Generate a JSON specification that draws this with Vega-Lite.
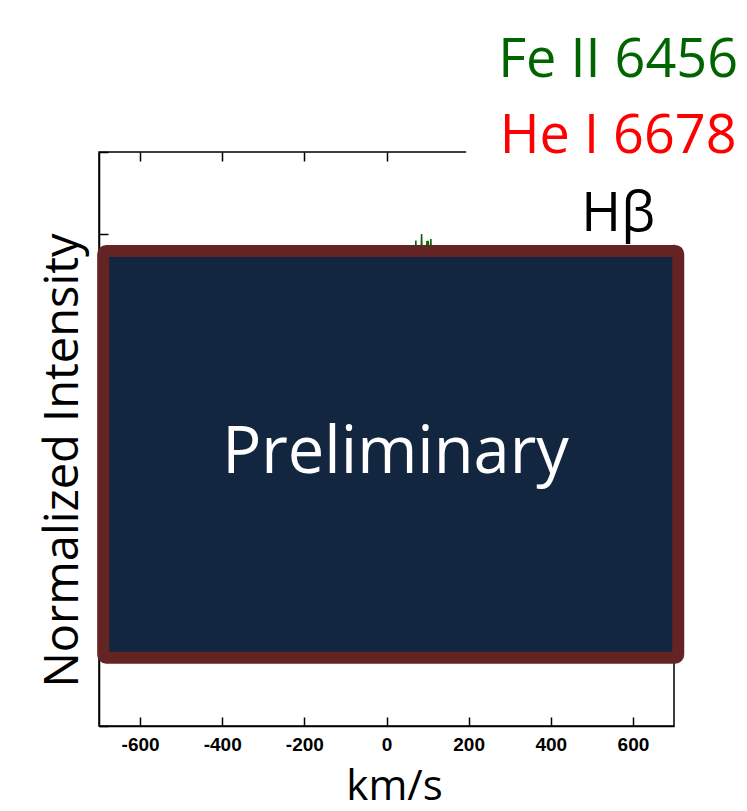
{
  "$schema": "https://vega.github.io/schema/vega-lite/v6.json",
  "width": 575,
  "height": 574,
  "autosize": {"type": "none"},
  "padding": {"left": 99, "top": 152, "right": 73, "bottom": 85},
  "background": "white",
  "config": {"view": {"stroke": "black", "strokeWidth": 1.5}, "axis": {"grid": false}},
  "datasets": {
    "spectrum": [
      {"v": 60, "intensity": 5.7},
      {"v": 70, "intensity": 5.75},
      {"v": 71.5, "intensity": 5.92},
      {"v": 73, "intensity": 5.7},
      {"v": 84, "intensity": 5.75},
      {"v": 85.5, "intensity": 6.0},
      {"v": 87, "intensity": 5.7},
      {"v": 97, "intensity": 5.8},
      {"v": 98.5, "intensity": 5.91},
      {"v": 101.5, "intensity": 5.91},
      {"v": 103, "intensity": 5.75},
      {"v": 106.5, "intensity": 5.8},
      {"v": 108, "intensity": 5.94},
      {"v": 109.5, "intensity": 5.7},
      {"v": 120, "intensity": 5.7}
    ],
    "cover": [{"x1": 194, "x2": 900, "y1": 5.87, "y2": 9}],
    "box": [{"x1": -689.8, "x2": 710.3, "y1": 0.8325, "y2": 5.794}],
    "stamp": [{"x": 22, "y": 3.084, "label": "Preliminary"}],
    "lines": [
      {"x": 564, "y": 7.918, "label": "Fe II 6456"},
      {"x": 564, "y": 6.985, "label": "He I 6678"},
      {"x": 564, "y": 6.04, "label": "Hβ"}
    ]
  },
  "layer": [
    {
      "data": {"name": "spectrum"},
      "mark": {"type": "line", "color": "#006400", "strokeWidth": 1.5},
      "encoding": {
        "x": {
          "field": "v", "type": "quantitative",
          "scale": {"domain": [-700, 700], "nice": false, "zero": false},
          "axis": {
            "orient": "bottom", "title": "km/s",
            "titleFont": "Open Sans", "titleFontSize": 42, "titleFontWeight": "normal", "titleColor": "black",
            "titleX": 295, "titleY": 73, "titleAlign": "center", "titleBaseline": "alphabetic",
            "values": [-600, -400, -200, 0, 200, 400, 600],
            "labelExpr": "toString(datum.value)",
            "labelFont": "Liberation Sans", "labelFontSize": 19, "labelFontWeight": "bold", "labelColor": "black",
            "labelPadding": 18, "tickSize": -9, "tickColor": "black", "tickWidth": 1.5,
            "domainColor": "black", "domainWidth": 1.5
          }
        },
        "y": {
          "field": "intensity", "type": "quantitative",
          "scale": {"domain": [0, 7], "nice": false, "zero": false},
          "axis": {
            "orient": "left", "title": "Normalized Intensity",
            "titleFont": "Open Sans", "titleFontSize": 47, "titleFontWeight": "normal", "titleColor": "black",
            "titleAngle": -90, "titleX": -22, "titleY": 308, "titleAlign": "center", "titleBaseline": "alphabetic",
            "labels": false, "values": [0, 1, 2, 3, 4, 5, 6, 7],
            "tickSize": -9, "tickColor": "black", "tickWidth": 1.5,
            "domainColor": "black", "domainWidth": 1.5
          }
        }
      }
    },
    {
      "data": {"name": "cover"},
      "mark": {"type": "rect", "color": "white"},
      "encoding": {
        "x": {
          "field": "x1", "type": "quantitative",
          "axis": {
            "orient": "top", "title": null, "labels": false, "domain": false,
            "values": [-600, -400, -200, 0, 200, 400, 600],
            "tickSize": -9, "tickColor": "black", "tickWidth": 1.5
          }
        },
        "x2": {"field": "x2"},
        "y": {"field": "y1", "type": "quantitative", "axis": null},
        "y2": {"field": "y2"}
      }
    },
    {
      "data": {"name": "box"},
      "mark": {"type": "rect", "fill": "#13263f", "stroke": "#642424", "strokeWidth": 12, "cornerRadius": 3},
      "encoding": {
        "x": {"field": "x1", "type": "quantitative", "axis": null},
        "x2": {"field": "x2"},
        "y": {"field": "y1", "type": "quantitative", "axis": null},
        "y2": {"field": "y2"}
      }
    },
    {
      "data": {"name": "stamp"},
      "mark": {"type": "text", "font": "Open Sans", "fontSize": 65, "color": "white", "align": "center", "baseline": "alphabetic"},
      "encoding": {
        "x": {"field": "x", "type": "quantitative", "axis": null},
        "y": {"field": "y", "type": "quantitative", "axis": null},
        "text": {"field": "label"}
      }
    },
    {
      "data": {"name": "lines"},
      "mark": {"type": "text", "font": "Open Sans", "fontSize": 54, "align": "center", "baseline": "alphabetic"},
      "encoding": {
        "x": {"field": "x", "type": "quantitative", "axis": null},
        "y": {"field": "y", "type": "quantitative", "axis": null},
        "text": {"field": "label"},
        "color": {
          "field": "label", "type": "nominal", "legend": null,
          "scale": {"domain": ["Fe II 6456", "He I 6678", "Hβ"], "range": ["#006400", "#ff0000", "#000000"]}
        }
      }
    }
  ],
  "resolve": {"axis": {"x": "independent", "y": "independent"}}
}
